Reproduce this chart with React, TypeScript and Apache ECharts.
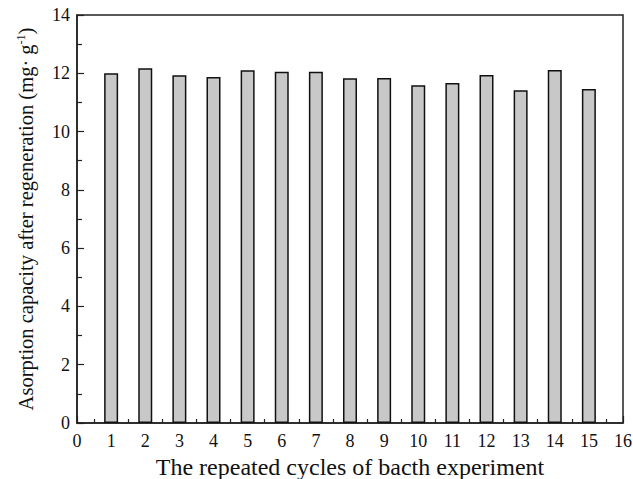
import React, { useEffect, useRef } from "react";
import * as echarts from "echarts";

const cycles = [1, 2, 3, 4, 5, 6, 7, 8, 9, 10, 11, 12, 13, 14, 15];
const capacity = [12.0, 12.17, 11.93, 11.87, 12.1, 12.05, 12.05, 11.83, 11.84, 11.59, 11.67, 11.94, 11.42, 12.11, 11.46];
const xTitle = "The repeated cycles of bacth experiment";
const yTitle = "Asorption capacity after regeneration (mg· g";

export default function App() {
  const ref = useRef<HTMLDivElement>(null);
  useEffect(() => {
    if (!ref.current) return;
    const chart = echarts.init(ref.current, null, { renderer: "svg" });
    const font = "Liberation Serif";
    chart.setOption({
      animation: false,
      backgroundColor: "#fff",
      textStyle: { fontFamily: font },
      grid: {
        left: 77, right: 10, top: 15, bottom: 56,
        outerBoundsMode: "none", containLabel: false,
        show: true, borderColor: "#222", borderWidth: 1.5, backgroundColor: "transparent",
      },
      xAxis: {
        type: "value",
        min: 0,
        max: 16,
        interval: 1,
        name: xTitle,
        nameLocation: "middle",
        nameGap: 31,
        nameTextStyle: { fontFamily: font, fontSize: 24, color: "#111" },
        axisLine: { lineStyle: { color: "#222", width: 1.5 } },
        axisTick: { inside: true, length: 7, lineStyle: { color: "#222", width: 1.2 } },
        minorTick: { show: true, splitNumber: 2, length: 4, lineStyle: { color: "#222", width: 1.2 } },
        axisLabel: { fontFamily: font, fontSize: 18, color: "#111", margin: 9 },
        splitLine: { show: false },
      },
      yAxis: {
        type: "value",
        min: 0,
        max: 14,
        interval: 2,
        name: "{t|" + yTitle + "}{s|-1}{t|)}",
        nameLocation: "middle",
        nameGap: 40,
        nameRotate: 90,
        nameTextStyle: {
          fontFamily: font,
          fontSize: 20.5,
          color: "#111",
          rich: {
            t: { fontFamily: font, fontSize: 20.5, color: "#111" },
            s: { fontFamily: font, fontSize: 12, color: "#111", verticalAlign: "top", padding: [0, 0, 10, 0] },
          },
        },
        axisLine: { show: true, lineStyle: { color: "#222", width: 1.5 } },
        axisTick: { show: true, inside: true, length: 7, lineStyle: { color: "#222", width: 1.2 } },
        minorTick: { show: true, splitNumber: 2, length: 5, lineStyle: { color: "#222", width: 1.2 } },
        axisLabel: { fontFamily: font, fontSize: 18, color: "#111", margin: 7 },
        splitLine: { show: false },
      },
      series: [
        {
          type: "bar",
          data: cycles.map((c, i) => [c, capacity[i]]),
          barWidth: 14,
          itemStyle: { color: "#c8c8c8", borderColor: "#111", borderWidth: 1.5 },
        },
      ],
    });
    return () => chart.dispose();
  }, []);
  return <div ref={ref} style={{ position: "fixed", left: 0, top: 0, width: 633, height: 479 }} />;
}
